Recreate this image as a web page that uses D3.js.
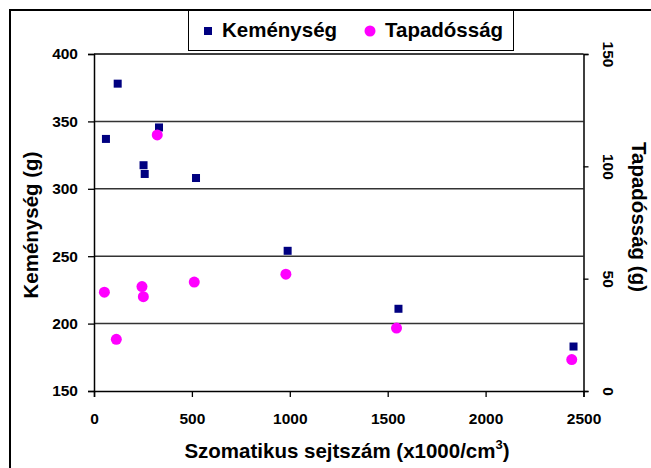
<!DOCTYPE html>
<html>
<head>
<meta charset="utf-8">
<script src="https://cdn.jsdelivr.net/npm/d3@7"></script>
<style>
  body { margin: 0; background: #fff; }
  svg text { font-family: "Liberation Sans", Arial, sans-serif; font-weight: bold; fill: #000; }
</style>
</head>
<body>
<div id="chart"></div>
<script>
// data
var sejtszamKem = [61, 121, 253, 259, 332, 521, 989, 1555, 2449];
var kemenyseg   = [337, 378, 317.5, 311, 345.5, 308, 254, 211, 183];
var sejtszamTap = [53, 114, 245, 252, 323, 512, 980, 1545, 2440];
var tapadossag  = [44, 23, 46.5, 42, 114, 48.5, 52, 28, 14];

var xTicks = [0, 500, 1000, 1500, 2000, 2500];
var yLeftTicks = [150, 200, 250, 300, 350, 400];
var yRightTicks = [0, 50, 100, 150];

var W = 651, H = 468;
var margin = {top: 54, right: 67.5, bottom: 77, left: 94},
    width = W - margin.left - margin.right,
    height = H - margin.top - margin.bottom;

var svg = d3.select("#chart")
            .append("svg")
            .attr("width", W)
            .attr("height", H);

// outer frame (only top and left edge visible)
svg.append("path")
   .attr("d", "M10," + H + "V10H" + W)
   .attr("fill", "none")
   .attr("stroke", "#000")
   .attr("stroke-width", 2);

var g = svg.append("g")
           .attr("transform", "translate(" + margin.left + "," + margin.top + ")");

var x = d3.scaleLinear().domain([0, 2500]).range([0, width]);
var yL = d3.scaleLinear().domain([150, 400]).range([height, 0]);
var yR = d3.scaleLinear().domain([0, 150]).range([height, 0]);

// gridlines
g.append("g")
 .selectAll("line")
 .data(yLeftTicks.filter(function (d) { return d > 150; }))
 .enter()
 .append("line")
 .attr("x1", 0)
 .attr("x2", width)
 .attr("y1", function (d) { return yL(d); })
 .attr("y2", function (d) { return yL(d); })
 .attr("stroke", function (d) { return d == 400 ? "#000" : "#333"; })
 .attr("stroke-width", 1.5);

// axes
var xAxis = g.append("g")
   .attr("transform", "translate(0," + height + ")")
   .call(d3.axisBottom(x).tickValues(xTicks).tickFormat(d3.format("d")).tickSize(6).tickPadding(16));

var leftAxis = g.append("g")
   .call(d3.axisLeft(yL).tickValues(yLeftTicks).tickFormat(d3.format("d")).tickSize(6).tickPadding(10));

var rightAxis = g.append("g")
   .attr("transform", "translate(" + width + ",0)")
   .call(d3.axisRight(yR).tickValues(yRightTicks).tickFormat(d3.format("d")).tickSize(5).tickPadding(0));

[xAxis, leftAxis, rightAxis].forEach(function (a) {
    a.select(".domain").attr("stroke", "#000").attr("stroke-width", 1.5);
    a.selectAll(".tick line").attr("stroke", "#000").attr("stroke-width", 1.3);
    a.selectAll("text").style("font-size", "15.5px").attr("fill", "#000");
});

// right tick labels are turned
rightAxis.selectAll(".tick text")
   .attr("x", null)
   .attr("text-anchor", "middle")
   .attr("transform", "translate(25,0) rotate(90)")
   .attr("dy", "0.35em");

// Keménység squares
g.append("g")
 .selectAll("rect")
 .data(kemenyseg)
 .enter()
 .append("rect")
 .attr("x", function (d, i) { return x(sejtszamKem[i]) - 4; })
 .attr("y", function (d) { return yL(d) - 4; })
 .attr("width", 8)
 .attr("height", 8)
 .attr("fill", "#000080");

// Tapadósság circles
g.append("g")
 .selectAll("circle")
 .data(tapadossag)
 .enter()
 .append("circle")
 .attr("cx", function (d, i) { return x(sejtszamTap[i]); })
 .attr("cy", function (d) { return yR(d); })
 .attr("r", 5.5)
 .attr("fill", "#ff00ff");

// axis titles
svg.append("text")
   .attr("transform", "translate(38,225) rotate(-90)")
   .attr("text-anchor", "middle")
   .style("font-size", "20.5px")
   .text("Keménység (g)");

svg.append("text")
   .attr("transform", "translate(632,217) rotate(90)")
   .attr("text-anchor", "middle")
   .style("font-size", "20.5px")
   .text("Tapadósság (g)");

var xt = svg.append("text")
   .attr("x", 347)
   .attr("y", 458)
   .attr("text-anchor", "middle")
   .style("font-size", "20.5px");
xt.append("tspan").text("Szomatikus sejtszám (x1000/cm");
xt.append("tspan").attr("dy", -9).style("font-size", "13px").text("3");
xt.append("tspan").attr("dy", 9).text(")");

// legend
var legend = svg.append("g");
legend.append("rect")
      .attr("x", 188.5)
      .attr("y", 10.5)
      .attr("width", 325)
      .attr("height", 40)
      .attr("fill", "#fff")
      .attr("stroke", "#000")
      .attr("stroke-width", 1);
legend.append("rect")
      .attr("x", 204)
      .attr("y", 27)
      .attr("width", 8)
      .attr("height", 8)
      .attr("fill", "#000080");
legend.append("text")
      .attr("x", 222)
      .attr("y", 37)
      .style("font-size", "20.5px")
      .text("Keménység");
legend.append("circle")
      .attr("cx", 370)
      .attr("cy", 31)
      .attr("r", 5.5)
      .attr("fill", "#ff00ff");
legend.append("text")
      .attr("x", 385)
      .attr("y", 37)
      .style("font-size", "20.5px")
      .text("Tapadósság");
</script>
</body>
</html>
